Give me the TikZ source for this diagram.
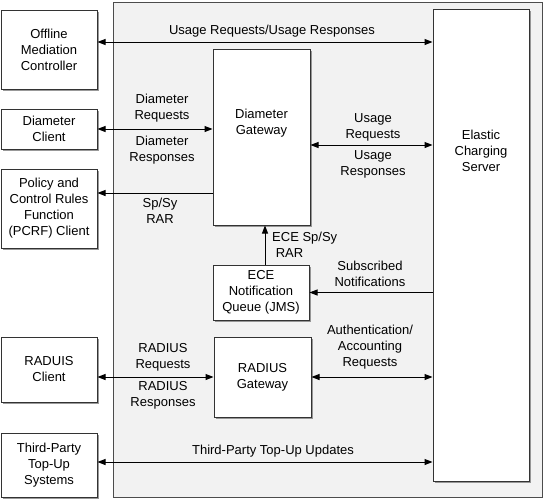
\documentclass[tikz,border=0pt]{standalone}
\usepackage{fontspec}
\setmainfont{Liberation Sans}
\usetikzlibrary{arrows.meta,shadows}

\begin{document}
\begin{tikzpicture}[
    x=1pt, y=-1pt,
    every node/.style={font=\fontsize{13}{16}\selectfont, align=center, inner sep=0pt},
    box/.style={draw=black!80, fill=white, line width=1pt,
      drop shadow={shadow xshift=2pt, shadow yshift=-2pt, fill=black!50, opacity=0.8}},
    client/.style={box, minimum width=96, minimum height=#1},
    lbl/.style={},
    flow/.style={line width=1pt, -{Triangle[length=8pt,width=6pt]}},
    dflow/.style={line width=1pt, {Triangle[length=8pt,width=6pt]}-{Triangle[length=8pt,width=6pt]}},
    ]
  \useasboundingbox (0,0) rectangle (546,501);

  \node[draw=black!70, fill=black!5, line width=1pt, minimum width=429, minimum height=495] (frame) at (327.5,249.5) {};

  \node[client=79] (omc) at (49,49.5) {Offline\\Mediation\\Controller};
  \node[client=40] (dcl) at (49,129) {Diameter\\Client};
  \node[client=79] (pcrf) at (49,208.5) {Policy and\\Control Rules\\Function\\(PCRF) Client};
  \node[client=65] (rcl) at (49,369.5) {RADUIS\\Client};
  \node[client=64] (tpt) at (49,465) {Third-Party\\Top-Up\\Systems};

  \node[box, minimum width=96, minimum height=472,
    label={[yshift=94pt]center:Elastic\\Charging\\Server}] (ecs) at (481,245) {};
  \node[box, minimum width=97, minimum height=176,
    label={[yshift=14pt]center:Diameter\\Gateway}] (dgw) at (261.5,137) {};
  \node[box, minimum width=96, minimum height=55] (ece) at (261,292.5) {ECE\\Notification\\Queue (JMS)};
  \node[box, minimum width=97, minimum height=80] (rgw) at (262.5,377) {RADIUS\\Gateway};

  \draw[dflow] (omc.east |- 0,42) -- (ecs.west |- 0,42);
  \draw[dflow] (dcl.east) -- (dgw.west |- dcl.east);
  \draw[flow] (dgw.west |- 0,193) -- (pcrf.east |- 0,193);
  \draw[dflow] (dgw.east |- 0,145) -- (ecs.west |- 0,145);
  \draw[flow] (ece.north -| 265,0) -- (dgw.south -| 265,0);
  \draw[flow] (ecs.west |- ece.east) -- (ece.east);
  \draw[dflow] (rgw.east) -- (ecs.west |- rgw.east);
  \draw[dflow] (rcl.east |- rgw.west) -- (rgw.west);
  \draw[dflow] (tpt.east |- 0,462) -- (ecs.west |- 0,462);

  \node[lbl] (l1) at (272,31) {Usage Requests/Usage Responses};
  \node[lbl] (l2) at (162,108) {Diameter\\Requests};
  \node[lbl] (l3) at (162,150) {Diameter\\Responses};
  \node[lbl] (l4) at (160,211) {Sp/Sy\\RAR};
  \node[lbl] (l5) at (373,127) {Usage\\Requests};
  \node[lbl] (l6) at (373,164) {Usage\\Responses};
  \node[lbl, anchor=west, align=left] (l7) at (272,245) {ECE Sp/Sy\\\ RAR};
  \node[lbl] (l8) at (370,274) {Subscribed\\Notifications};
  \node[lbl] (l9) at (370,347) {Authentication/\\Accounting\\Requests};
  \node[lbl] (l10) at (163,357) {RADIUS\\Requests};
  \node[lbl] (l11) at (163,395) {RADIUS\\Responses};
  \node[lbl] (l12) at (273,451) {Third-Party Top-Up Updates};
\end{tikzpicture}
\end{document}
